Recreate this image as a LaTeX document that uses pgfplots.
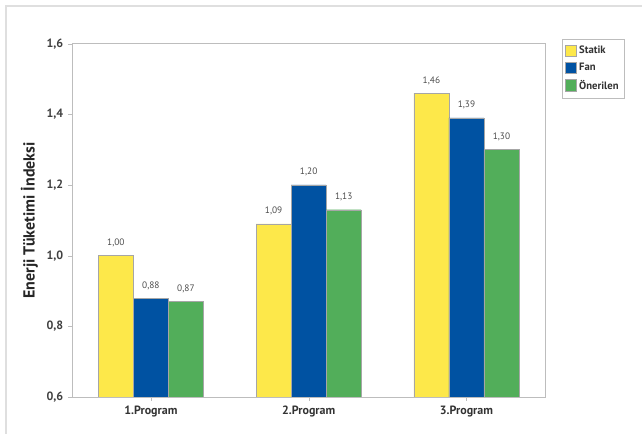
\documentclass[border=0pt]{standalone}
\usepackage{fontspec}
\setmainfont{PT Sans}
\usepackage{pgfplots}
\pgfplotsset{compat=1.18}
\definecolor{cyel}{HTML}{FDE84A}
\definecolor{cblu}{HTML}{0052A2}
\definecolor{cgrn}{HTML}{52AE5A}
\definecolor{cgrid}{HTML}{BDBDBD}
\begin{document}
\begin{tikzpicture}
\path[use as bounding box] (0,0) rectangle (481.5pt,325.5pt);
\draw[gray!25, line width=0.8pt] (4.5pt,0) -- (4.5pt,321pt) -- (481.5pt,321pt);
\begin{axis}[
  at={(54pt,27.75pt)}, anchor=south west,
  scale only axis, width=355pt, height=265pt,
  ybar=0pt, bar width=0.222,
  xmin=-0.5, xmax=2.5, ymin=0.6, ymax=1.6,
  xtick=data, xticklabels={1.Program,2.Program,3.Program},
  ytick={0.6,0.8,1.0,1.2,1.4,1.6},
  /pgf/number format/assume math mode=true,
  yticklabel style={font=\small\bfseries, text=black!75, /pgf/number format/.cd,fixed,fixed zerofill,precision=1,use comma},
  xticklabel style={font=\small\bfseries, text=black!80},
  tick style={cgrid}, tick align=outside, major tick length=3pt,
  xtick pos=bottom, ytick pos=left,
  axis line style={cgrid},
  ylabel={Enerji Tüketimi İndeksi},
  ylabel style={font=\large\bfseries, text=black!85},
  every axis y label/.append style={at={(-0.062,0.5)}},
  nodes near coords,
  nodes near coords style={font=\scriptsize, text=black!70, yshift=3pt, /pgf/number format/.cd,fixed,fixed zerofill,precision=2,use comma,assume math mode=true},
  legend style={at={(1.035,1.012)}, anchor=north west, draw=cgrid, font=\footnotesize\bfseries, text=black!80, row sep=1.5pt, inner xsep=2pt, inner ysep=3pt},
  legend cell align=left,
  legend image code/.code={\draw[#1] (0pt,-4pt) rectangle (8.5pt,4.5pt);},
]
\addplot[fill=cyel, draw=gray!70, line width=0.3pt] coordinates {(0,1.00) (1,1.09) (2,1.46)};
\addplot[fill=cblu, draw=gray!70, line width=0.3pt] coordinates {(0,0.88) (1,1.20) (2,1.39)};
\addplot[fill=cgrn, draw=gray!70, line width=0.3pt] coordinates {(0,0.87) (1,1.13) (2,1.30)};
\legend{Statik,Fan,Önerilen}
\end{axis}
\end{tikzpicture}
\end{document}
